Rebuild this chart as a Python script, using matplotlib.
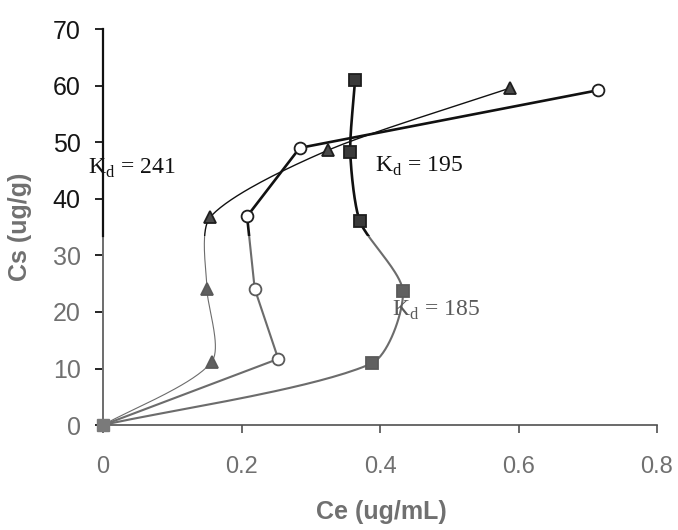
import numpy as np
import matplotlib
matplotlib.use("Agg")
import matplotlib.pyplot as plt
from matplotlib.patches import Rectangle

plt.rcParams["font.family"] = ["Liberation Sans", "DejaVu Sans"]

# values: Ce (ug/mL), Cs (ug/g)
ce_tri = [0, 0.157, 0.150, 0.155, 0.325, 0.588]
cs_tri = [0, 11.2, 24.1, 36.8, 48.6, 59.6]
ce_circ = [0, 0.253, 0.219, 0.208, 0.284, 0.715]
cs_circ = [0, 11.7, 24.1, 36.9, 49.0, 59.2]
ce_sq = [0, 0.388, 0.433, 0.371, 0.357, 0.364]
cs_sq = [0, 10.9, 23.7, 36.0, 48.3, 61.0]

kd_labels = ["K$_\\mathregular{d}$ = 241", "K$_\\mathregular{d}$ = 195", "K$_\\mathregular{d}$ = 185"]
kd_pos = [(-0.022, 45.3), (0.393, 45.7), (0.417, 20.3)]

x_ticks = [0, 0.2, 0.4, 0.6, 0.8]
x_ticklabels = ["0", "0.2", "0.4", "0.6", "0.8"]
y_ticks = [0, 10, 20, 30, 40, 50, 60, 70]

# the scan is darker above this Cs level and faded below it
band = 33.5
DARK = "#111111"
FADED = "#6c6c6c"


def smooth(ax, xs, ys, k=0.7, n=40):
    # Excel-like smoothed line, done in pixel space so the bends look right
    p = ax.transData.transform(np.column_stack([xs, ys]))
    m = len(p)
    tang = np.zeros_like(p)
    for i in range(m):
        a = p[max(i - 1, 0)]
        b = p[min(i + 1, m - 1)]
        d = b - a
        tang[i] = d / (np.hypot(*d) or 1)
    t = np.linspace(0, 1, n)[:, None]
    out = []
    for i in range(m - 1):
        p0, p3 = p[i], p[i + 1]
        L = np.hypot(*(p3 - p0)) / 3 * k
        p1 = p0 + tang[i] * L
        p2 = p3 - tang[i + 1] * L
        out.append((1 - t) ** 3 * p0 + 3 * (1 - t) ** 2 * t * p1
                   + 3 * (1 - t) * t ** 2 * p2 + t ** 3 * p3)
    out = ax.transData.inverted().transform(np.vstack(out))
    return out[:, 0], out[:, 1]


fig = plt.figure(figsize=(6.78, 5.30), dpi=100)
ax = fig.add_axes([0.152, 0.198, 0.817, 0.747])
ax.set_xlim(0, 0.8)
ax.set_ylim(0, 70)

upper = Rectangle((-1, band), 3, 200, transform=ax.transData)
lower = Rectangle((-1, -50), 3, band + 50, transform=ax.transData)

# x, y, marker, line width, marker size, fill, smoothed?
series = [
    (ce_tri, cs_tri, "^", 1.0, 9, "#4a4a4a", True),
    (ce_circ, cs_circ, "o", 1.9, 8.5, "white", False),
    (ce_sq, cs_sq, "s", 1.9, 8.5, "#3a3a3a", True),
]

for xs, ys, mk, lw, ms, fc, smoothed in series:
    if smoothed:
        sx, sy = smooth(ax, xs, ys)
    else:
        sx, sy = xs, ys
    l1, = ax.plot(sx, sy, color=DARK, lw=lw, zorder=2)
    l1.set_clip_path(upper)
    l2, = ax.plot(sx, sy, color=FADED, lw=lw * 0.8, zorder=2)
    l2.set_clip_path(lower)
    xs = np.array(xs)
    ys = np.array(ys)
    hi = ys > band
    lo = (ys <= band) & (ys > 0)
    ax.plot(xs[hi], ys[hi], linestyle="none", marker=mk, ms=ms,
            mfc=fc, mec="#1e1e1e", mew=1.3, zorder=3)
    ax.plot(xs[lo], ys[lo], linestyle="none", marker=mk, ms=ms,
            mfc=fc if fc == "white" else "#606060", mec="#5a5a5a", mew=1.3, zorder=3)

# all three series start at the origin, the square sits on top
ax.plot([ce_sq[0]], [cs_sq[0]], linestyle="none", marker="s", ms=8.5,
        mfc="#7a7a7a", mec="#7a7a7a", zorder=4, clip_on=False)

for txt, (x, y) in zip(kd_labels, kd_pos):
    ax.text(x, y, txt, color=DARK if y > band else "#5a5a5a", fontsize=17,
            family="Liberation Serif", ha="left", va="center", zorder=5)

ax.set_xticks(x_ticks)
ax.set_xticklabels(x_ticklabels)
ax.set_yticks(y_ticks)

ax.spines["top"].set_visible(False)
ax.spines["right"].set_visible(False)
ax.spines["left"].set_color(FADED)
ax.spines["left"].set_linewidth(1.4)
ax.spines["bottom"].set_color("#505050")
ax.spines["bottom"].set_linewidth(1.2)
# darker top part of the y axis
ax.axvline(0, ymin=band / 70, ymax=1, color=DARK, lw=1.6, zorder=3, clip_on=False)

ax.tick_params(axis="x", direction="out", length=6, width=1.2, color="#505050",
               pad=16, labelsize=17, labelcolor="#707070")
ax.tick_params(axis="y", direction="out", length=6, width=1.2, pad=10, labelsize=18)
for lab, tk, v in zip(ax.get_yticklabels(), ax.yaxis.get_major_ticks(), y_ticks):
    c = "#151515" if v > band else "#707070"
    lab.set_color(c)
    tk.tick1line.set_color(c)

ax.set_xlabel("Ce (ug/mL)", fontsize=18, fontweight="bold", color="#707070")
ax.set_ylabel("Cs (ug/g)", fontsize=18, fontweight="bold", color="#707070")
ax.xaxis.set_label_coords(0.502, -0.19)
ax.yaxis.set_label_coords(-0.128, 0.5)

fig.savefig("out.png", dpi=100)
